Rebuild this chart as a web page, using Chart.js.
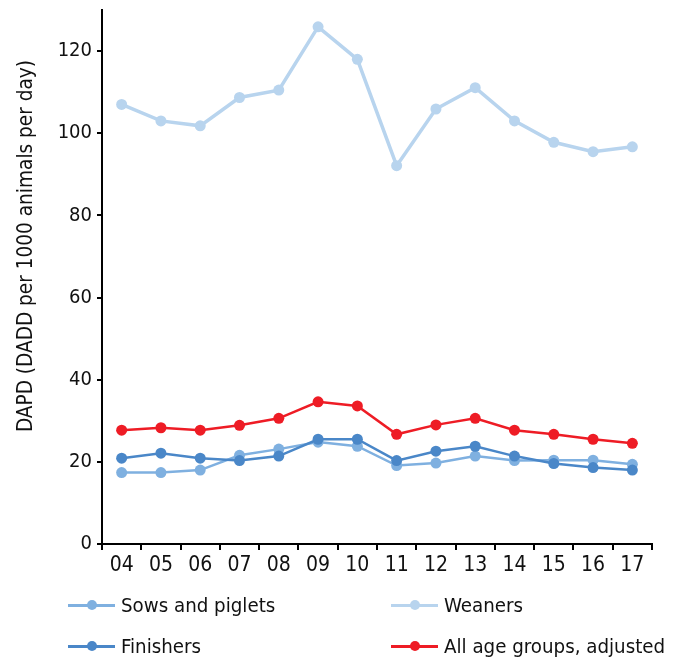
<!DOCTYPE html>
<html>
<head>
<meta charset="utf-8">
<script src="https://cdn.jsdelivr.net/npm/chart.js@4"></script>
<style>
  html, body { margin: 0; padding: 0; background: #fff; }
  #wrap { position: relative; width: 675px; height: 659px; }
  #legend { position: absolute; left: 0; top: 0; width: 675px; height: 659px; pointer-events: none;
            font-family: 'DejaVu Sans Condensed', 'DejaVu Sans', sans-serif; font-size: 20.3px; color: #111; }
  .item { position: absolute; display: flex; align-items: center; white-space: nowrap; }
  .swatch { position: relative; width: 47px; height: 3px; margin-right: 6px; }
  .swatch i { position: absolute; left: 19px; top: -3.5px; width: 10px; height: 10px; border-radius: 50%; }
  #ytitle { position: absolute; left: 25px; top: 246px; white-space: nowrap; color: #111;
            font-family: 'DejaVu Sans Condensed', 'DejaVu Sans', sans-serif; font-size: 20.6px;
            transform: translate(-50%, -50%) rotate(-90deg); }
</style>
</head>
<body>
<div id="wrap">
  <canvas id="myChart" width="675" height="659"></canvas>
  <div id="legend"></div>
  <div id="ytitle">DAPD (DADD per 1000 animals per day)</div>
</div>
<script>
// years (two-digit labels)
const years = ["04", "05", "06", "07", "08", "09", "10", "11", "12", "13", "14", "15", "16", "17"];

// DAPD values
const sowsAndPiglets = [17.4, 17.4, 18.0, 21.6, 23.1, 24.8, 23.8, 19.1, 19.7, 21.4, 20.3, 20.4, 20.4, 19.4];
const weaners        = [107.0, 103.0, 101.8, 108.7, 110.5, 125.9, 118.0, 92.1, 105.9, 111.1, 103.0, 97.8, 95.5, 96.7];
const finishers      = [20.9, 22.1, 20.9, 20.3, 21.4, 25.5, 25.5, 20.3, 22.6, 23.8, 21.4, 19.6, 18.6, 18.0];
const allAgeGroups   = [27.7, 28.3, 27.7, 28.9, 30.6, 34.6, 33.6, 26.7, 29.0, 30.6, 27.7, 26.7, 25.5, 24.5];

const yTicks = [0, 20, 40, 60, 80, 100, 120];
const yMax = 130;

const fontFamily = "'DejaVu Sans Condensed', 'DejaVu Sans', sans-serif";

function series(label, data, color, width, order) {
  return {
    label: label,
    data: data,
    borderColor: color,
    backgroundColor: color,
    pointBackgroundColor: color,
    pointBorderColor: color,
    borderWidth: width,
    pointRadius: 5.5,
    pointBorderWidth: 0,
    tension: 0,
    order: order
  };
}

const datasets = [
  series("Sows and piglets", sowsAndPiglets, "#7fb0e0", 2.5, 2),
  series("Weaners", weaners, "#b8d4ee", 3.5, 3),
  series("Finishers", finishers, "#4a87c8", 2.5, 1),
  series("All age groups, adjusted", allAgeGroups, "#ee1c25", 2.5, 0)
];

var ctx = document.getElementById('myChart').getContext('2d');
var chart = new Chart(ctx, {
  type: 'line',
  data: { labels: years, datasets: datasets },
  options: {
    responsive: false,
    animation: false,
    layout: { padding: { top: 10, right: 23, bottom: 69, left: 0 } },
    plugins: { legend: { display: false }, tooltip: { enabled: false } },
    scales: {
      x: {
        offset: true,
        grid: { offset: true, drawOnChartArea: false, color: '#000', lineWidth: 2, tickLength: 6 },
        border: { color: '#000', width: 2 },
        ticks: { color: '#111', font: { family: fontFamily, size: 21 }, padding: 3, maxRotation: 0 },
        afterFit: (s) => { s.height = 46; }
      },
      y: {
        min: 0,
        max: yMax,
        afterBuildTicks: (s) => { s.ticks = yTicks.map(v => ({ value: v })); },
        grid: { drawOnChartArea: false, color: '#000', lineWidth: 2, tickLength: 5 },
        border: { color: '#000', width: 2 },
        ticks: { color: '#111', font: { family: fontFamily, size: 20 }, padding: 5 },
        // fixed width; the top label (120) sits below the axis end, so no extra top padding
        afterFit: (s) => { s.width = 102; s.paddingTop = 0; }
      }
    }
  }
});

// legend in two columns under the plot
const legendPos = [[68, 605], [391, 605], [68, 646], [391, 646]];
const legendEl = document.getElementById('legend');
datasets.forEach((ds, i) => {
  const item = document.createElement('div');
  item.className = 'item';
  item.style.left = legendPos[i][0] + 'px';
  item.style.top = (legendPos[i][1] - 12) + 'px';
  item.style.height = '24px';
  const sw = document.createElement('span');
  sw.className = 'swatch';
  sw.style.background = ds.borderColor;
  const dot = document.createElement('i');
  dot.style.background = ds.borderColor;
  sw.appendChild(dot);
  item.appendChild(sw);
  item.appendChild(document.createTextNode(ds.label));
  legendEl.appendChild(item);
});
</script>
</body>
</html>
